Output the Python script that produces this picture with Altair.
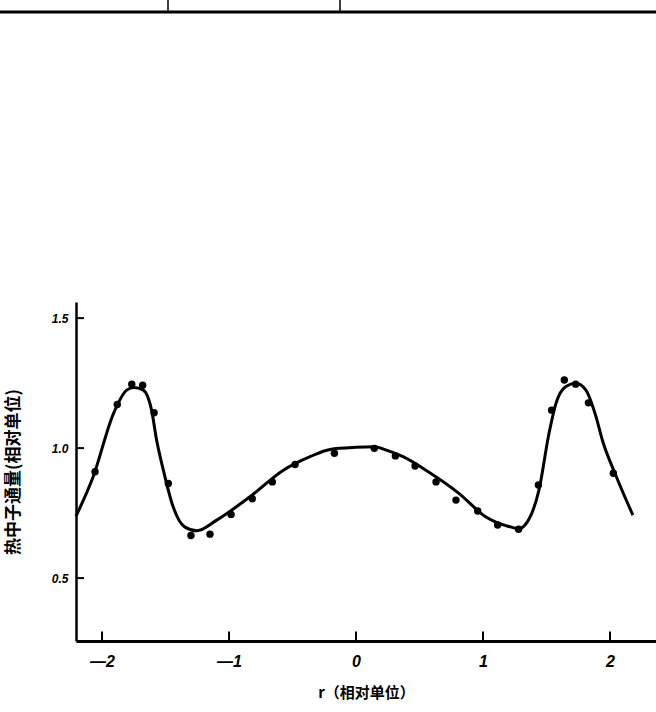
import altair as alt
import pandas as pd

# Smooth curve
curve_r = [-2.205, -2.07, -1.91, -1.806, -1.75, -1.675, -1.61, -1.57, -1.517, -1.44, -1.35, -1.254,
           -1.097, -0.835, -0.572, -0.362, -0.205, 0.0, 0.144, 0.25, 0.37, 0.55, 0.81, 1.02, 1.23,
           1.28, 1.34, 1.44, 1.52, 1.575, 1.65, 1.73, 1.81, 1.89, 1.94, 2.05, 2.18]
curve_v = [0.738, 0.89, 1.133, 1.223, 1.233, 1.223, 1.146, 1.03, 0.915, 0.774, 0.697, 0.682,
           0.723, 0.813, 0.915, 0.967, 0.995, 1.003, 1.005, 0.99, 0.967, 0.915, 0.826, 0.736, 0.695,
           0.690, 0.71, 0.838, 1.058, 1.173, 1.236, 1.249, 1.223, 1.12, 1.03, 0.89, 0.742]

# Measured points
pts_r = [-2.055, -1.88, -1.766, -1.68, -1.59, -1.478, -1.30, -1.15, -0.984, -0.817, -0.659, -0.48,
         -0.17, 0.144, 0.31, 0.465, 0.63, 0.787, 0.958, 1.115, 1.28, 1.436, 1.54, 1.64, 1.73, 1.83, 2.026]
pts_v = [0.909, 1.168, 1.246, 1.242, 1.136, 0.864, 0.664, 0.669, 0.745, 0.805, 0.870, 0.937,
         0.98, 0.999, 0.97, 0.931, 0.870, 0.80, 0.758, 0.704, 0.688, 0.858, 1.146, 1.262, 1.246, 1.174, 0.903]

x_ticks = [-2, -1, 0, 1, 2]
y_ticks = [0.5, 1.0, 1.5]

X_DOMAIN = [-2.205, 2.362]
Y_DOMAIN = [0.258, 1.562]
W, H = 580, 339

xs = alt.Scale(domain=X_DOMAIN, nice=False, zero=False)
ys = alt.Scale(domain=Y_DOMAIN, nice=False, zero=False)

curve_df = pd.DataFrame({"r": curve_r, "v": curve_v})
pts_df = pd.DataFrame({"r": pts_r, "v": pts_v})
xt_df = pd.DataFrame({"r": [float(t) for t in x_ticks]})
yt_df = pd.DataFrame({"v": y_ticks})

num_font = "Liberation Sans"

line = alt.Chart(curve_df).mark_line(
    color="black", strokeWidth=3, interpolate="monotone", clip=False
).encode(
    x=alt.X("r:Q", scale=xs,
            axis=alt.Axis(values=x_ticks, title="r（相对单位）", grid=False,
                          domainColor="black", domainWidth=3, ticks=False,
                          labelFont=num_font, labelFontSize=16, labelFontStyle="italic",
                          labelFontWeight="bold", labelColor="black", labelPadding=12,
                          labelExpr="datum.value < 0 ? '—' + abs(datum.value) : '' + datum.value",
                          titleFont="Noto Sans CJK SC", titleFontSize=15, titleFontWeight="bold",
                          titleColor="black", titlePadding=16)),
    y=alt.Y("v:Q", scale=ys,
            axis=alt.Axis(values=y_ticks, format=".1f", title="热中子通量(相对单位)", grid=False,
                          domainColor="black", domainWidth=2.5, ticks=False,
                          labelFont=num_font, labelFontSize=12, labelFontStyle="italic",
                          labelFontWeight="bold", labelColor="black", labelPadding=8,
                          titleFont="Noto Sans CJK SC", titleFontSize=17, titleFontWeight="bold",
                          titleColor="black", titlePadding=29)),
)

points = alt.Chart(pts_df).mark_circle(color="black", size=55, opacity=1).encode(
    x=alt.X("r:Q", scale=xs), y=alt.Y("v:Q", scale=ys)
)

xticks = alt.Chart(xt_df).mark_tick(color="black", thickness=2, size=9, orient="vertical", opacity=1).encode(
    x=alt.X("r:Q", scale=xs), y=alt.value(H - 5)
)
yticks = alt.Chart(yt_df).mark_tick(color="black", thickness=2, size=8, orient="horizontal", opacity=1).encode(
    y=alt.Y("v:Q", scale=ys), x=alt.value(4)
)

# scan artefact: heavy line at the top of the page
top_line = alt.Chart(pd.DataFrame({"a": [0]})).mark_rule(color="black", strokeWidth=3).encode(
    x=alt.value(-76), x2=alt.value(W), y=alt.value(-290)
)
top_tick1 = alt.Chart(pd.DataFrame({"a": [0]})).mark_rule(color="black", strokeWidth=1.5).encode(
    x=alt.value(168 - 76), y=alt.value(-302), y2=alt.value(-290)
)
top_tick2 = alt.Chart(pd.DataFrame({"a": [0]})).mark_rule(color="black", strokeWidth=1.5).encode(
    x=alt.value(340 - 76), y=alt.value(-302), y2=alt.value(-290)
)

chart = alt.layer(line, points, xticks, yticks, top_line, top_tick1, top_tick2).properties(
    width=W, height=H,
    autosize=alt.AutoSizeParams(type="none"),
    padding={"left": 76, "top": 302, "right": 0, "bottom": 71},
).configure(background="white").configure_view(stroke="transparent", strokeWidth=0)

chart.save("out.html", embed_options={"renderer": "svg", "actions": False})
